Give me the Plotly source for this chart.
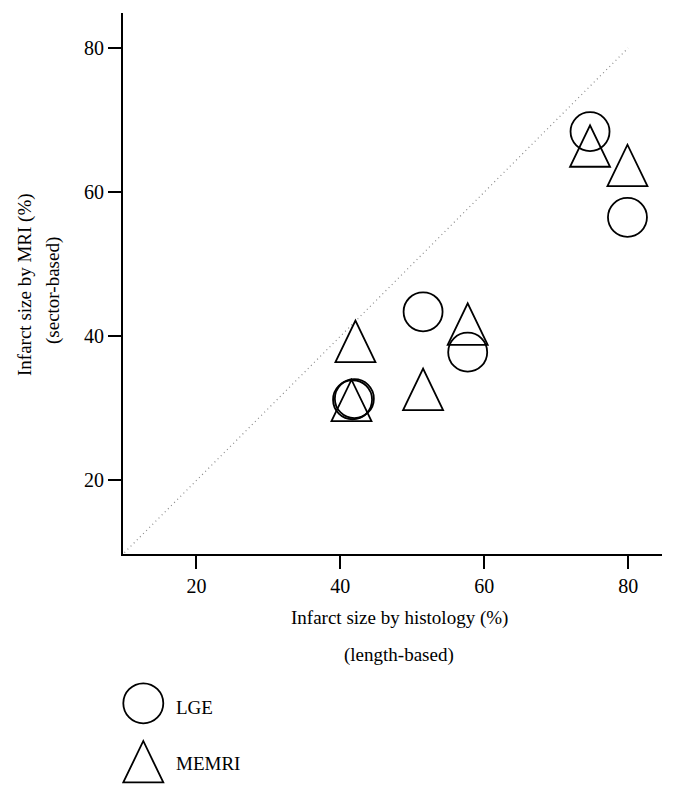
import plotly.graph_objects as go

# data
lge_x = [74.7, 79.9, 51.5, 57.7, 41.7, 41.95]
lge_y = [68.4, 56.5, 43.4, 37.8, 31.2, 31.35]
memri_x = [74.7, 79.9, 57.7, 51.5, 42.1, 41.55]
memri_y = [66.4, 63.7, 41.7, 32.65, 39.3, 31.1]
identity = [10, 80]
tick_vals = [20, 40, 60, 80]

FONT = "Liberation Serif"
W, H = 675, 797
OFF = 8  # page body margin shifts the figure
ML, MT = 123 - OFF, 13 - OFF
MR = W - (662 - OFF)
MB = H - (554 - OFF)
PW, PH = W - ML - MR, H - MT - MB


def px(x):
    return (x - OFF - ML) / PW


def py(y):
    return (MT + PH - (y - OFF)) / PH


# triangle outline in pixels around its anchor point
TRI = "M-20,-20.75 L20,-20.75 L0,20.75 Z"

fig = go.Figure()

fig.add_trace(go.Scatter(x=identity, y=identity, mode="lines",
                         line=dict(color="#8a8a8a", width=1.2, dash="1px,3.4px"),
                         hoverinfo="skip", showlegend=False))

fig.add_trace(go.Scatter(x=lge_x, y=lge_y, mode="markers", name="LGE",
                         marker=dict(symbol="circle-open", size=39,
                                     color="black", line=dict(width=1.8, color="black")),
                         showlegend=False))

shapes = []
for x, y in zip(memri_x, memri_y):
    shapes.append(dict(type="path", xref="x", yref="y", xsizemode="pixel", ysizemode="pixel",
                       xanchor=x, yanchor=y, path=TRI,
                       line=dict(color="black", width=1.8)))

# hand-made legend
shapes.append(dict(type="circle", xref="paper", yref="paper", xsizemode="pixel", ysizemode="pixel",
                   xanchor=px(143.3), yanchor=py(703.3), x0=-20, x1=20, y0=-20, y1=20,
                   line=dict(color="black", width=1.8)))
shapes.append(dict(type="path", xref="paper", yref="paper", xsizemode="pixel", ysizemode="pixel",
                   xanchor=px(143.3), yanchor=py(761.7), path=TRI,
                   line=dict(color="black", width=1.8)))

tf = dict(family=FONT, size=19, color="black")
annotations = [
    dict(text="Infarct size by histology (%)", x=px(399), y=py(618)),
    dict(text="(length-based)", x=px(399), y=py(655)),
    dict(text="Infarct size by MRI (%)", x=px(25), y=py(285), textangle=-90),
    dict(text="(sector-based)", x=px(53), y=py(291), textangle=-90),
    dict(text="LGE", x=px(174), y=py(707), xanchor="left"),
    dict(text="MEMRI", x=px(174), y=py(763), xanchor="left"),
]
for a in annotations:
    a.update(xref="paper", yref="paper", showarrow=False, font=tf)
    a.setdefault("xanchor", "center")
    a.setdefault("yanchor", "middle")

axis_common = dict(showgrid=False, zeroline=False, showline=True, linecolor="black",
                   linewidth=2, ticks="outside", ticklen=13, tickwidth=1.8, tickcolor="black",
                   tickvals=tick_vals, tickfont=dict(family=FONT, size=20, color="black"))

fig.update_layout(
    width=W, height=H,
    margin=dict(l=ML, r=MR, t=MT, b=MB),
    paper_bgcolor="white", plot_bgcolor="white",
    xaxis=dict(range=[9.8, 84.7], **axis_common),
    yaxis=dict(range=[9.8, 84.85], **axis_common),
    shapes=shapes,
    annotations=annotations,
    showlegend=False,
)

fig.write_html("out.html")
